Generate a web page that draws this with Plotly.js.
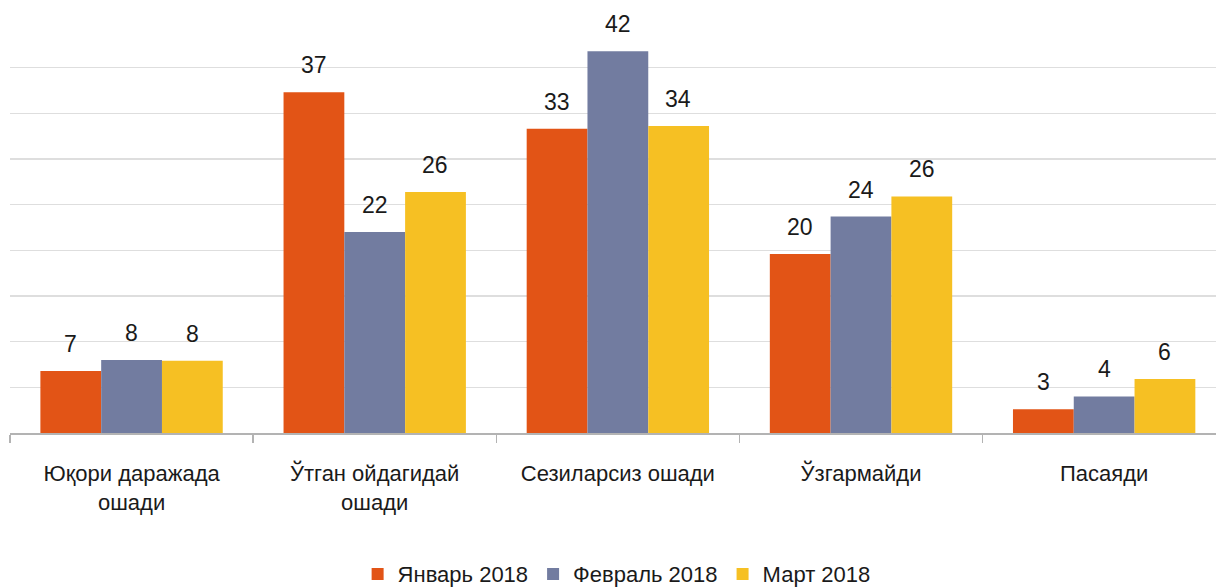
<!DOCTYPE html>
<html>
<head>
<meta charset="utf-8">
<script src="https://cdn.plot.ly/plotly-3.0.1.min.js"></script>
<style>html,body{margin:0;padding:0;background:#fff;}#chart{width:1216px;height:587px;}</style>
</head>
<body>
<div id="chart"></div>
<script>
const categories = ["Юқори даражада<br>ошади", "Ўтган ойдагидай<br>ошади", "Сезиларсиз ошади", "Ўзгармайди", "Пасаяди"];
const seriesNames = ["Январь 2018", "Февраль 2018", "Март 2018"];
const jan = [6.8, 37.3, 33.3, 19.6, 2.6];
const feb = [8.0, 22.0, 41.8, 23.7, 4.0];
const mar = [7.9, 26.4, 33.6, 25.9, 5.9];
const colors = ["#E25416", "#727CA0", "#F6C023"];

const font = "Liberation Sans, Arial, sans-serif";
const series = [jan, feb, mar];
const data = series.map((vals, i) => ({
  type: "bar",
  name: seriesNames[i],
  x: categories,
  y: vals,
  marker: {color: colors[i]},
  hoverinfo: "skip"
}));

// value labels above each bar, placed through the data axes
const barPx = 60.6;
const annotations = [];
series.forEach((vals, i) => {
  vals.forEach((v, j) => {
    annotations.push({
      x: categories[j], y: v, xref: "x", yref: "y",
      xshift: (i - 1) * barPx, yshift: 27,
      text: String(Math.round(v)), showarrow: false,
      xanchor: "center", yanchor: "middle",
      font: {family: font, size: 23, color: "#1a1a1a"}
    });
  });
});

const layout = {
  width: 1216, height: 587,
  margin: {l: 10, r: 0, t: 22, b: 154},
  paper_bgcolor: "#fff", plot_bgcolor: "#fff",
  barmode: "group", bargap: 0.25, bargroupgap: 0,
  font: {family: font, size: 22, color: "#1a1a1a"},
  annotations: annotations,
  xaxis: {
    range: [-0.5, 4.46],
    showline: true, linecolor: "#b3b3b3", linewidth: 1.5,
    ticks: "outside", tickson: "boundaries", ticklen: 8, tickcolor: "#b3b3b3", tickwidth: 1.5,
    ticklabelstandoff: 20,
    tickfont: {family: font, size: 22, color: "#1a1a1a"},
    showgrid: false, zeroline: false
  },
  yaxis: {
    range: [0, 45], dtick: 5,
    showgrid: true, gridcolor: "#dedede", gridwidth: 1.3,
    showticklabels: false, zeroline: false, showline: false, ticks: ""
  },
  showlegend: true,
  legend: {
    orientation: "h", x: 0.503, xanchor: "center", yref: "container", y: 0.022, yanchor: "middle",
    font: {family: font, size: 22, color: "#1a1a1a"},
    itemwidth: 30, traceorder: "normal"
  }
};

Plotly.newPlot("chart", data, layout, {staticPlot: true});
</script>
</body>
</html>
